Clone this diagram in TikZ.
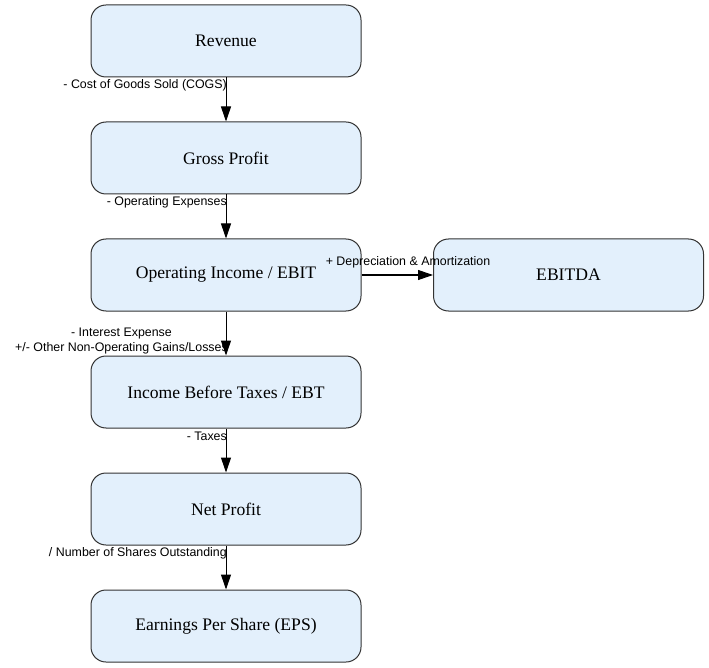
\documentclass[tikz,border=0pt]{standalone}
\usepackage{fontspec}
\setmainfont{Liberation Serif}
\newfontfamily\lblfont{Liberation Sans}
\usetikzlibrary{arrows.meta}
\definecolor{boxfill}{HTML}{E3F0FC}
\definecolor{boxline}{HTML}{333333}
\begin{document}
\begin{tikzpicture}[x=1pt,y=-1pt,
  stepbox/.style={draw=boxline, line width=1pt, fill=boxfill, rounded corners=15pt,
    minimum width=270pt, minimum height=72pt, inner sep=0pt,
    font=\fontsize{17.6}{20}\selectfont},
  conn/.style={-{Triangle[length=15pt,width=10pt]}, line width=1pt, black},
  lbl/.style={font=\lblfont\fontsize{12.4}{15}\selectfont, inner sep=0pt, align=center}]
\useasboundingbox (0,0) rectangle (709,668);
\node[stepbox] (rev) at (226,41) {Revenue};
\node[stepbox] (gp) at (226,158) {Gross Profit};
\node[stepbox] (oi) at (226,275) {Operating Income / EBIT};
\node[stepbox] (ebitda) at (568.5,275) {EBITDA};
\node[stepbox] (ebt) at (226,392) {Income Before Taxes / EBT};
\node[stepbox] (np) at (226,509) {Net Profit};
\node[stepbox] (eps) at (226,626) {Earnings Per Share (EPS)};
\draw[conn] (rev) -- (gp);
\draw[conn] (gp) -- (oi);
\draw[conn] (oi) -- (ebitda);
\draw[conn] (oi) -- (ebt);
\draw[conn] (ebt) -- (np);
\draw[conn] (np) -- (eps);
\node[lbl, anchor=east] (l1) at (227,85) {- Cost of Goods Sold (COGS)};
\node[lbl, anchor=east] (l2) at (227,202) {- Operating Expenses};
\node[lbl, anchor=center] (l3) at (408,262) {+ Depreciation \& Amortization};
\node[lbl, anchor=east] (l4) at (228,341) {- Interest Expense\\+/- Other Non-Operating Gains/Losses};
\node[lbl, anchor=east] (l5) at (227,436) {- Taxes};
\node[lbl, anchor=east] (l6) at (227,553) {/ Number of Shares Outstanding};
\end{tikzpicture}
\end{document}
